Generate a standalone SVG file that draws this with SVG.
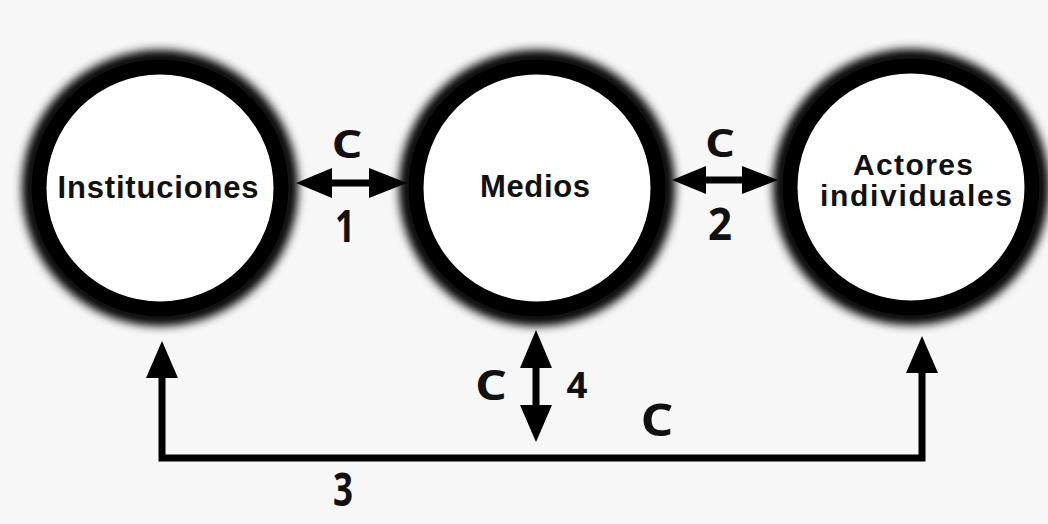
<svg xmlns="http://www.w3.org/2000/svg" width="1048" height="524" viewBox="0 0 1048 524">
  <defs>
    <filter id="halo" x="-30%" y="-30%" width="160%" height="160%">
      <feGaussianBlur stdDeviation="5"/>
    </filter>
    <style>
      .halo { fill: none; stroke: #000; stroke-width: 16; filter: url(#halo); }
      .core { fill: #fff; stroke: #000; stroke-width: 15; }
      .node { font-family: "Liberation Sans", Arial, sans-serif; font-weight: bold; fill: #111; text-anchor: middle; }
      .lbl { font-family: "Open Sans", "DejaVu Sans", sans-serif; font-weight: bold; fill: #111; text-anchor: middle; }
      .line { stroke: #000; stroke-width: 7; fill: none; }
      .head { fill: #000; }
    </style>
  </defs>
  <rect x="0" y="0" width="1048" height="524" fill="#f7f7f7"/>

  <g id="node-instituciones">
    <circle class="halo" cx="160" cy="188" r="130"/>
    <circle class="core" cx="160" cy="188" r="121"/>
    <text class="node" x="158" y="198" font-size="31" textLength="201" lengthAdjust="spacing">Instituciones</text>
  </g>

  <g id="node-medios">
    <circle class="halo" cx="537" cy="188" r="130"/>
    <circle class="core" cx="537" cy="188" r="121"/>
    <text class="node" x="535" y="197" font-size="31" textLength="110" lengthAdjust="spacing">Medios</text>
  </g>

  <g id="node-actores">
    <circle class="halo" cx="911" cy="187" r="130"/>
    <circle class="core" cx="911" cy="187" r="121"/>
    <text class="node" x="913" y="175" font-size="30" textLength="120" lengthAdjust="spacing">Actores</text>
    <text class="node" x="916" y="206" font-size="30" textLength="192" lengthAdjust="spacing">individuales</text>
  </g>

  <g id="connectors">
    <!-- 1: Instituciones <-> Medios -->
    <line class="line" x1="320" y1="183" x2="385" y2="183"/>
    <polygon class="head" points="296,183 332,168 332,198"/>
    <polygon class="head" points="407,183 369,168 369,198"/>
    <!-- 2: Medios <-> Actores -->
    <line class="line" x1="695" y1="180" x2="755" y2="180"/>
    <polygon class="head" points="672,180 706,166 706,194"/>
    <polygon class="head" points="778,180 742,166 742,194"/>
    <!-- 4: Medios vertical double arrow -->
    <line class="line" x1="536" y1="355" x2="536" y2="418"/>
    <polygon class="head" points="536,330 520,368 552,368"/>
    <polygon class="head" points="536,442 520,405 552,405"/>
    <!-- 3: bottom bracket Instituciones <-> Actores -->
    <polyline class="line" points="162,365 162,458 922,458 922,360" stroke-linejoin="miter"/>
    <polygon class="head" points="162,341 146,378 178,378"/>
    <polygon class="head" points="922,336 906,373 938,373"/>
  </g>

  <g id="labels">
    <text class="lbl" x="347" y="158" font-size="40" textLength="31" lengthAdjust="spacingAndGlyphs">C</text>
    <text class="lbl" x="345" y="242" font-size="44" textLength="20" lengthAdjust="spacingAndGlyphs">1</text>
    <text class="lbl" x="720" y="157" font-size="40" textLength="30" lengthAdjust="spacingAndGlyphs">C</text>
    <text class="lbl" x="720" y="240" font-size="45" textLength="24" lengthAdjust="spacingAndGlyphs">2</text>
    <text class="lbl" x="491" y="400" font-size="42" textLength="32" lengthAdjust="spacingAndGlyphs">C</text>
    <text class="lbl" x="577" y="398" font-size="35" textLength="21" lengthAdjust="spacingAndGlyphs">4</text>
    <text class="lbl" x="657" y="436" font-size="45" textLength="33" lengthAdjust="spacingAndGlyphs">C</text>
    <text class="lbl" x="343" y="506" font-size="46" textLength="20" lengthAdjust="spacingAndGlyphs">3</text>
  </g>
</svg>
